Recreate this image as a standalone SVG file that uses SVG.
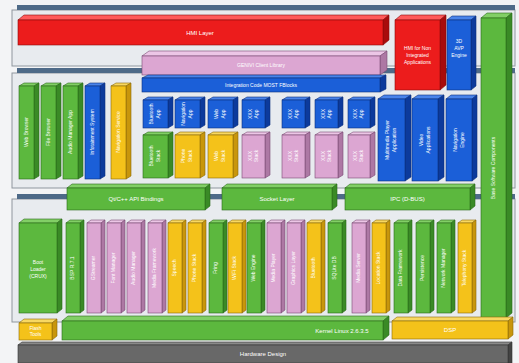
<svg xmlns="http://www.w3.org/2000/svg" width="519" height="363" viewBox="0 0 519 363">
<defs>
<style>
.bg{fill:#f3f4f6}
.pan{fill:#e8ebef;stroke:#8f969e;stroke-width:1}
.strip{fill:#4e6a88}
.r .f{fill:#ec1c1c}.r .t{fill:#ff5a5a}.r .s{fill:#a80c0c}.r rect,.r polygon{stroke:#8a0a0a;stroke-width:0.6}
.b .f{fill:#1b5fd8}.b .t{fill:#4a84ea}.b .s{fill:#0c3a9c}.b rect,.b polygon{stroke:#0a2f7e;stroke-width:0.6}
.g .f{fill:#5cb83e}.g .t{fill:#82cf66}.g .s{fill:#3a8a26}.g rect,.g polygon{stroke:#2a6a1a;stroke-width:0.6}
.y .f{fill:#f4c21a}.y .t{fill:#f8d862}.y .s{fill:#c8960c}.y rect,.y polygon{stroke:#8a6a08;stroke-width:0.6}
.p .f{fill:#dca6d2}.p .t{fill:#ecc6e6}.p .s{fill:#ad78a4}.p rect,.p polygon{stroke:#7a4a74;stroke-width:0.6}
.k .f{fill:#686868}.k .t{fill:#8a8a8a}.k .s{fill:#444}.k rect,.k polygon{stroke:#333;stroke-width:0.6}
text{font-family:"Liberation Sans",Arial,sans-serif;fill:#fff;font-size:5px;text-anchor:middle;dominant-baseline:middle}
.m{font-size:6px}
</style>
</defs>
<rect class="bg" x="0" y="0" width="519" height="363"/>
<!-- panels -->
<g id="panels">
<rect class="pan" x="12" y="10" width="503" height="56"/>
<rect class="strip" x="17" y="5" width="498" height="5"/>
<rect class="pan" x="12" y="73" width="503" height="115"/>
<rect class="strip" x="17" y="68" width="498" height="5"/>
<rect class="pan" x="12" y="199" width="503" height="123"/>
<rect class="strip" x="17" y="194" width="498" height="5"/>
</g>
<g id="connectors"></g>

<!-- top panel -->
<g id="hmi-layer" class="r" transform="translate(18,20)"><polygon class="t" points="0,0 6,-5 371,-5 365,0"/><polygon class="s" points="365,0 371,-5 371,20 365,25"/><rect class="f" width="365" height="25"/><text class="m" x="182" y="13">HMI Layer</text></g>
<g id="hmi-nonint" class="r" transform="translate(395,20)"><polygon class="t" points="0,0 6,-5 51,-5 45,0"/><polygon class="s" points="45,0 51,-5 51,65 45,70"/><rect class="f" width="45" height="70"/><text x="22.5" y="29">HMI for Non</text><text x="22.5" y="36">Integrated</text><text x="22.5" y="43">Applications</text></g>
<g id="map-engine" class="b" transform="translate(447,20)"><polygon class="t" points="0,0 5,-4 29,-4 24,0"/><polygon class="s" points="24,0 29,-4 29,66 24,70"/><rect class="f" width="24" height="70"/><text x="12" y="22">3D</text><text x="12" y="29">AVP</text><text x="12" y="36">Engine</text></g>
<g id="base-sw" class="g" transform="translate(481,18)"><polygon class="t" points="0,0 6,-5 31,-5 25,0"/><polygon class="s" points="25,0 31,-5 31,295 25,300"/><rect class="f" width="25" height="300"/><text transform="translate(12.5,150) rotate(-90)">Base Software Components</text></g>
<g id="client-lib" class="p" transform="translate(142,56)"><polygon class="t" points="0,0 7,-5 245,-5 238,0"/><polygon class="s" points="238,0 245,-5 245,14 238,19"/><rect class="f" width="238" height="19"/><text x="119" y="10">GENIVI Client Library</text></g>
<g id="integration" class="b" transform="translate(142,78)"><polygon class="t" points="0,0 6,-3 244,-3 238,0"/><polygon class="s" points="238,0 244,-3 244,11 238,14"/><rect class="f" width="238" height="14"/><text x="119" y="7.5">Integration Code MOST FBlocks</text></g>

<!-- panel 2 left verticals -->
<g id="web-browser" class="g" transform="translate(19,86)"><polygon class="t" points="0,0 5,-3 20,-3 15,0"/><polygon class="s" points="15,0 20,-3 20,90 15,93"/><rect class="f" width="15" height="93"/><text transform="translate(7.5,46) rotate(-90)">Web Browser</text></g>
<g id="file-browser" class="g" transform="translate(41,86)"><polygon class="t" points="0,0 5,-3 20,-3 15,0"/><polygon class="s" points="15,0 20,-3 20,90 15,93"/><rect class="f" width="15" height="93"/><text transform="translate(7.5,46) rotate(-90)">File Browser</text></g>
<g id="audio-player" class="g" transform="translate(63,86)"><polygon class="t" points="0,0 5,-3 20,-3 15,0"/><polygon class="s" points="15,0 20,-3 20,90 15,93"/><rect class="f" width="15" height="93"/><text transform="translate(7.5,46) rotate(-90)">Audio Manager App</text></g>
<g id="infotainment" class="b" transform="translate(85,86)"><polygon class="t" points="0,0 5,-3 20,-3 15,0"/><polygon class="s" points="15,0 20,-3 20,90 15,93"/><rect class="f" width="15" height="93"/><text transform="translate(7.5,46) rotate(-90)">Infotainment System</text></g>
<g id="nav-service" class="y" transform="translate(111,86)"><polygon class="t" points="0,0 5,-3 20,-3 15,0"/><polygon class="s" points="15,0 20,-3 20,90 15,93"/><rect class="f" width="15" height="93"/><text transform="translate(7.5,46) rotate(-90)">Navigation Service</text></g>

<!-- app boxes -->
<g id="app1" class="b" transform="translate(143,100)"><polygon class="t" points="0,0 5,-3 30,-3 25,0"/><polygon class="s" points="25,0 30,-3 30,25 25,28"/><rect class="f" width="25" height="28"/><text transform="translate(9,14) rotate(-90)">Bluetooth</text><text transform="translate(16,14) rotate(-90)">App</text></g>
<g id="app2" class="b" transform="translate(175,100)"><polygon class="t" points="0,0 5,-3 30,-3 25,0"/><polygon class="s" points="25,0 30,-3 30,25 25,28"/><rect class="f" width="25" height="28"/><text transform="translate(9,14) rotate(-90)">Navigation</text><text transform="translate(16,14) rotate(-90)">App</text></g>
<g id="app3" class="b" transform="translate(208,100)"><polygon class="t" points="0,0 5,-3 30,-3 25,0"/><polygon class="s" points="25,0 30,-3 30,25 25,28"/><rect class="f" width="25" height="28"/><text transform="translate(9,14) rotate(-90)">Web</text><text transform="translate(16,14) rotate(-90)">App</text></g>
<g id="app4" class="b" transform="translate(242,100)"><polygon class="t" points="0,0 5,-3 28,-3 23,0"/><polygon class="s" points="23,0 28,-3 28,25 23,28"/><rect class="f" width="23" height="28"/><text transform="translate(9,14) rotate(-90)">XXX</text><text transform="translate(15,14) rotate(-90)">App</text></g>
<g id="app5" class="b" transform="translate(282,100)"><polygon class="t" points="0,0 5,-3 28,-3 23,0"/><polygon class="s" points="23,0 28,-3 28,25 23,28"/><rect class="f" width="23" height="28"/><text transform="translate(9,14) rotate(-90)">XXX</text><text transform="translate(15,14) rotate(-90)">App</text></g>
<g id="app6" class="b" transform="translate(315,100)"><polygon class="t" points="0,0 5,-3 28,-3 23,0"/><polygon class="s" points="23,0 28,-3 28,25 23,28"/><rect class="f" width="23" height="28"/><text transform="translate(9,14) rotate(-90)">XXX</text><text transform="translate(15,14) rotate(-90)">App</text></g>
<g id="app7" class="b" transform="translate(348,100)"><polygon class="t" points="0,0 5,-3 27,-3 22,0"/><polygon class="s" points="22,0 27,-3 27,25 22,28"/><rect class="f" width="22" height="28"/><text transform="translate(8,14) rotate(-90)">XXX</text><text transform="translate(14,14) rotate(-90)">App</text></g>

<!-- stacks row -->
<g id="stack1" class="g" transform="translate(143,135)"><polygon class="t" points="0,0 5,-3 30,-3 25,0"/><polygon class="s" points="25,0 30,-3 30,40 25,43"/><rect class="f" width="25" height="43"/><text transform="translate(9,21) rotate(-90)">Bluetooth</text><text transform="translate(16,21) rotate(-90)">Stack</text></g>
<g id="stack2" class="y" transform="translate(175,135)"><polygon class="t" points="0,0 5,-3 30,-3 25,0"/><polygon class="s" points="25,0 30,-3 30,40 25,43"/><rect class="f" width="25" height="43"/><text transform="translate(9,21) rotate(-90)">Phone</text><text transform="translate(16,21) rotate(-90)">Stack</text></g>
<g id="stack3" class="y" transform="translate(208,135)"><polygon class="t" points="0,0 5,-3 30,-3 25,0"/><polygon class="s" points="25,0 30,-3 30,40 25,43"/><rect class="f" width="25" height="43"/><text transform="translate(9,21) rotate(-90)">Web</text><text transform="translate(16,21) rotate(-90)">Stack</text></g>
<g id="stack4" class="p" transform="translate(242,135)"><polygon class="t" points="0,0 5,-3 28,-3 23,0"/><polygon class="s" points="23,0 28,-3 28,40 23,43"/><rect class="f" width="23" height="43"/><text transform="translate(9,21) rotate(-90)">XXX</text><text transform="translate(15,21) rotate(-90)">Stack</text></g>
<g id="stack5" class="p" transform="translate(282,135)"><polygon class="t" points="0,0 5,-3 28,-3 23,0"/><polygon class="s" points="23,0 28,-3 28,40 23,43"/><rect class="f" width="23" height="43"/><text transform="translate(9,21) rotate(-90)">XXX</text><text transform="translate(15,21) rotate(-90)">Stack</text></g>
<g id="stack6" class="p" transform="translate(315,135)"><polygon class="t" points="0,0 5,-3 28,-3 23,0"/><polygon class="s" points="23,0 28,-3 28,40 23,43"/><rect class="f" width="23" height="43"/><text transform="translate(9,21) rotate(-90)">XXX</text><text transform="translate(15,21) rotate(-90)">Stack</text></g>
<g id="stack7" class="p" transform="translate(348,135)"><polygon class="t" points="0,0 5,-3 27,-3 22,0"/><polygon class="s" points="22,0 27,-3 27,40 22,43"/><rect class="f" width="22" height="43"/><text transform="translate(8,21) rotate(-90)">XXX</text><text transform="translate(14,21) rotate(-90)">Stack</text></g>

<!-- tall blue apps -->
<g id="mm-player" class="b" transform="translate(378,99)"><polygon class="t" points="0,0 6,-4 33,-4 27,0"/><polygon class="s" points="27,0 33,-4 33,78 27,82"/><rect class="f" width="27" height="82"/><text transform="translate(10,41) rotate(-90)">Multimedia Player</text><text transform="translate(17,41) rotate(-90)">Application</text></g>
<g id="video-app" class="b" transform="translate(412,99)"><polygon class="t" points="0,0 6,-4 32,-4 26,0"/><polygon class="s" points="26,0 32,-4 32,78 26,82"/><rect class="f" width="26" height="82"/><text transform="translate(10,41) rotate(-90)">Video</text><text transform="translate(17,41) rotate(-90)">Applications</text></g>
<g id="nav-engine" class="b" transform="translate(446,99)"><polygon class="t" points="0,0 5,-4 31,-4 26,0"/><polygon class="s" points="26,0 31,-4 31,78 26,82"/><rect class="f" width="26" height="82"/><text transform="translate(10,41) rotate(-90)">Navigation</text><text transform="translate(17,41) rotate(-90)">Engine</text></g>

<!-- middle bars -->
<g id="qt-bindings" class="g" transform="translate(67,188)"><polygon class="t" points="0,0 5,-4 143,-4 138,0"/><polygon class="s" points="138,0 143,-4 143,18 138,22"/><rect class="f" width="138" height="22"/><text class="m" x="69" y="11.5">Qt/C++ API Bindings</text></g>
<g id="socket-layer" class="g" transform="translate(222,188)"><polygon class="t" points="0,0 5,-4 115,-4 110,0"/><polygon class="s" points="110,0 115,-4 115,18 110,22"/><rect class="f" width="110" height="22"/><text class="m" x="55" y="11.5">Socket Layer</text></g>
<g id="ipc" class="g" transform="translate(345,188)"><polygon class="t" points="0,0 5,-4 130,-4 125,0"/><polygon class="s" points="125,0 130,-4 130,18 125,22"/><rect class="f" width="125" height="22"/><text class="m" x="62.5" y="11.5">IPC (D-BUS)</text></g>

<!-- bottom row -->
<g id="boot-loader" class="g" transform="translate(19,223)"><polygon class="t" points="0,0 5,-4 43,-4 38,0"/><polygon class="s" points="38,0 43,-4 43,86 38,90"/><rect class="f" width="38" height="90"/><text x="19" y="40">Boot</text><text x="19" y="47">Loader</text><text x="19" y="54">(CRUX)</text></g>
<g id="c1" class="g" transform="translate(66,223)"><polygon class="t" points="0,0 4,-3 18,-3 14,0"/><polygon class="s" points="14,0 18,-3 18,87 14,90"/><rect class="f" width="14" height="90"/><text transform="translate(7,45) rotate(-90)">BSP R.7.1</text></g>
<g id="c2" class="p" transform="translate(87,223)"><polygon class="t" points="0,0 4,-3 18,-3 14,0"/><polygon class="s" points="14,0 18,-3 18,87 14,90"/><rect class="f" width="14" height="90"/><text transform="translate(7,45) rotate(-90)">GStreamer</text></g>
<g id="c3" class="p" transform="translate(107,223)"><polygon class="t" points="0,0 4,-3 18,-3 14,0"/><polygon class="s" points="14,0 18,-3 18,87 14,90"/><rect class="f" width="14" height="90"/><text transform="translate(7,45) rotate(-90)">Font Manager</text></g>
<g id="c4" class="p" transform="translate(127,223)"><polygon class="t" points="0,0 4,-3 18,-3 14,0"/><polygon class="s" points="14,0 18,-3 18,87 14,90"/><rect class="f" width="14" height="90"/><text transform="translate(7,45) rotate(-90)">Audio Manager</text></g>
<g id="c5" class="p" transform="translate(148,223)"><polygon class="t" points="0,0 4,-3 18,-3 14,0"/><polygon class="s" points="14,0 18,-3 18,87 14,90"/><rect class="f" width="14" height="90"/><text transform="translate(7,45) rotate(-90)">Media Framework</text></g>
<g id="c6" class="y" transform="translate(168,223)"><polygon class="t" points="0,0 4,-3 18,-3 14,0"/><polygon class="s" points="14,0 18,-3 18,87 14,90"/><rect class="f" width="14" height="90"/><text transform="translate(7,45) rotate(-90)">Speech</text></g>
<g id="c7" class="y" transform="translate(188,223)"><polygon class="t" points="0,0 4,-3 18,-3 14,0"/><polygon class="s" points="14,0 18,-3 18,87 14,90"/><rect class="f" width="14" height="90"/><text transform="translate(7,45) rotate(-90)">Phone Stack</text></g>
<g id="c8" class="g" transform="translate(209,223)"><polygon class="t" points="0,0 4,-3 18,-3 14,0"/><polygon class="s" points="14,0 18,-3 18,87 14,90"/><rect class="f" width="14" height="90"/><text transform="translate(7,45) rotate(-90)">Fring</text></g>
<g id="c9" class="y" transform="translate(228,223)"><polygon class="t" points="0,0 4,-3 18,-3 14,0"/><polygon class="s" points="14,0 18,-3 18,87 14,90"/><rect class="f" width="14" height="90"/><text transform="translate(7,45) rotate(-90)">WiFi Stack</text></g>
<g id="c10" class="g" transform="translate(247,223)"><polygon class="t" points="0,0 4,-3 18,-3 14,0"/><polygon class="s" points="14,0 18,-3 18,87 14,90"/><rect class="f" width="14" height="90"/><text transform="translate(7,45) rotate(-90)">Web Engine</text></g>
<g id="c11" class="p" transform="translate(267,223)"><polygon class="t" points="0,0 4,-3 18,-3 14,0"/><polygon class="s" points="14,0 18,-3 18,87 14,90"/><rect class="f" width="14" height="90"/><text transform="translate(7,45) rotate(-90)">Media Player</text></g>
<g id="c12" class="p" transform="translate(287,223)"><polygon class="t" points="0,0 4,-3 18,-3 14,0"/><polygon class="s" points="14,0 18,-3 18,87 14,90"/><rect class="f" width="14" height="90"/><text transform="translate(7,45) rotate(-90)">Graphics Layer</text></g>
<g id="c13" class="y" transform="translate(307,223)"><polygon class="t" points="0,0 4,-3 18,-3 14,0"/><polygon class="s" points="14,0 18,-3 18,87 14,90"/><rect class="f" width="14" height="90"/><text transform="translate(7,45) rotate(-90)">Bluetooth</text></g>
<g id="c14" class="g" transform="translate(328,223)"><polygon class="t" points="0,0 4,-3 18,-3 14,0"/><polygon class="s" points="14,0 18,-3 18,87 14,90"/><rect class="f" width="14" height="90"/><text transform="translate(7,45) rotate(-90)">SQLite DB</text></g>
<g id="c15" class="p" transform="translate(352,223)"><polygon class="t" points="0,0 4,-3 18,-3 14,0"/><polygon class="s" points="14,0 18,-3 18,87 14,90"/><rect class="f" width="14" height="90"/><text transform="translate(7,45) rotate(-90)">Media Server</text></g>
<g id="c16" class="y" transform="translate(372,223)"><polygon class="t" points="0,0 4,-3 18,-3 14,0"/><polygon class="s" points="14,0 18,-3 18,87 14,90"/><rect class="f" width="14" height="90"/><text transform="translate(7,45) rotate(-90)">Location Stack</text></g>
<g id="c17" class="g" transform="translate(394,223)"><polygon class="t" points="0,0 4,-3 18,-3 14,0"/><polygon class="s" points="14,0 18,-3 18,87 14,90"/><rect class="f" width="14" height="90"/><text transform="translate(7,45) rotate(-90)">Data Framework</text></g>
<g id="c18" class="g" transform="translate(416,223)"><polygon class="t" points="0,0 4,-3 18,-3 14,0"/><polygon class="s" points="14,0 18,-3 18,87 14,90"/><rect class="f" width="14" height="90"/><text transform="translate(7,45) rotate(-90)">Persistence</text></g>
<g id="c19" class="g" transform="translate(437,223)"><polygon class="t" points="0,0 4,-3 18,-3 14,0"/><polygon class="s" points="14,0 18,-3 18,87 14,90"/><rect class="f" width="14" height="90"/><text transform="translate(7,45) rotate(-90)">Network Manager</text></g>
<g id="c20" class="y" transform="translate(458,223)"><polygon class="t" points="0,0 4,-3 18,-3 14,0"/><polygon class="s" points="14,0 18,-3 18,87 14,90"/><rect class="f" width="14" height="90"/><text transform="translate(7,45) rotate(-90)">Telephony Stack</text></g>

<!-- bottom bars -->
<g id="flash-tools" class="y" transform="translate(19,323)"><polygon class="t" points="0,0 5,-4 38,-4 33,0"/><polygon class="s" points="33,0 38,-4 38,13 33,17"/><rect class="f" width="33" height="17"/><text x="16.5" y="6">Flash</text><text x="16.5" y="12">Tools</text></g>
<g id="kernel" class="g" transform="translate(62,321)"><polygon class="t" points="0,0 6,-5 327,-5 321,0"/><polygon class="s" points="321,0 327,-5 327,14 321,19"/><rect class="f" width="321" height="19"/><text class="m" x="280" y="10">Kernel Linux 2.6.3.5</text></g>
<g id="dsp" class="y" transform="translate(392,321)"><polygon class="t" points="0,0 5,-4 121,-4 116,0"/><polygon class="s" points="116,0 121,-4 121,14 116,18"/><rect class="f" width="116" height="18"/><text class="m" x="58" y="9.5">DSP</text></g>
<g id="hardware" class="k" transform="translate(18,345)"><polygon class="t" points="0,0 4,-3 494,-3 490,0"/><polygon class="s" points="490,0 494,-3 494,18 490,18"/><rect class="f" width="490" height="18"/><text class="m" x="245" y="9.5">Hardware Design</text></g>
</svg>
